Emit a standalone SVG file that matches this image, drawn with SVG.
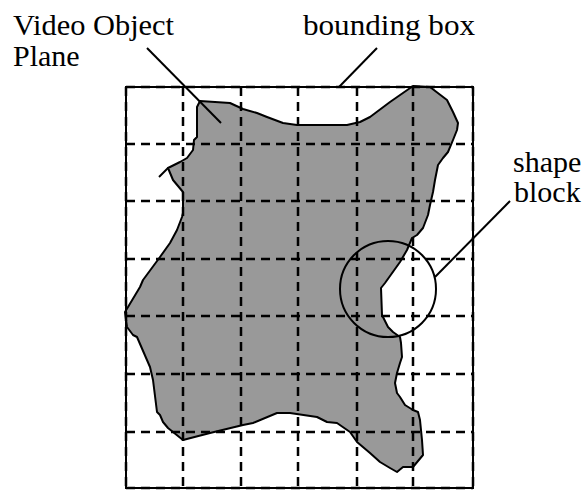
<svg xmlns="http://www.w3.org/2000/svg" width="585" height="490" viewBox="0 0 585 490">
<style>
.lbl{font-family:"Liberation Serif","Times New Roman",serif;font-size:30px;fill:#000}
.grid{stroke:#000;stroke-width:2.5;stroke-dasharray:9 6;fill:none}
.leader{stroke:#000;stroke-width:2;fill:none}
</style>
<rect width="585" height="490" fill="#fff"/>
<g id="vop">
<polygon fill="#999999" stroke="#000" stroke-width="2" stroke-linejoin="round" points="200,101 230,103 243,109 257,113 267,117 283,123 297,125 347,125 360,122 370,117 390,102 413,86 430,87 447,100 453,112 458,123 457,130 453,140 448,152 443,158 438,165 435,180 433,192 430,205 428,215 423,228 417,235 412,238 407,250 400,262 385,283 381,288 382,315 388,327 393,332 400,337 401,343 402,357 400,363 397,373 395,383 397,393 400,397 405,405 413,410 418,412 420,420 422,440 423,455 413,467 403,467 397,472 390,468 380,462 370,453 357,442 350,432 337,423 327,422 317,417 290,413 277,413 253,423 243,425 210,433 183,440 168,428 163,422 160,415 157,412 153,380 150,367 137,337 133,335 127,327 125,312 140,287 143,280 160,257 170,243 177,230 182,217 183,213 183,192 173,180 168,168 180,162 187,158 193,150 194,140 197,137 197,107"/>
<line x1="168" y1="168" x2="159" y2="177" stroke="#000" stroke-width="2"/>
</g>
<g id="bounding-box">
<rect x="126" y="87" width="347" height="401" fill="none" stroke="#000" stroke-width="2"/>
</g>
<g id="grid" class="grid">
<line x1="126" y1="87" x2="126" y2="490"/>
<line x1="183" y1="87" x2="183" y2="490"/>
<line x1="241" y1="87" x2="241" y2="490"/>
<line x1="298" y1="87" x2="298" y2="490"/>
<line x1="357" y1="87" x2="357" y2="490"/>
<line x1="413" y1="87" x2="413" y2="490"/>
<line x1="473" y1="87" x2="473" y2="490"/>
<line x1="126" y1="87" x2="473" y2="87"/>
<line x1="126" y1="144" x2="473" y2="144"/>
<line x1="126" y1="201" x2="473" y2="201"/>
<line x1="126" y1="259" x2="473" y2="259"/>
<line x1="126" y1="316" x2="473" y2="316"/>
<line x1="126" y1="374" x2="473" y2="374"/>
<line x1="126" y1="432" x2="473" y2="432"/>
<line x1="126" y1="488" x2="473" y2="488"/>
</g>
<g id="shape-block">
<circle cx="388" cy="289" r="48" fill="none" stroke="#000" stroke-width="2"/>
</g>
<g id="connectors" class="leader">
<line x1="147" y1="48" x2="221" y2="123"/>
<line x1="377" y1="48" x2="339" y2="87"/>
<line x1="510" y1="201" x2="435" y2="277"/>
</g>
<g id="label-vop">
<text class="lbl" x="13" y="35" textLength="161" lengthAdjust="spacingAndGlyphs">Video Object</text>
<text class="lbl" x="13" y="66">Plane</text>
</g>
<g id="label-bbox">
<text class="lbl" x="303" y="35" textLength="172" lengthAdjust="spacingAndGlyphs">bounding box</text>
</g>
<g id="label-shape-block">
<text class="lbl" x="513" y="172">shape</text>
<text class="lbl" x="514" y="202">block</text>
</g>
</svg>
